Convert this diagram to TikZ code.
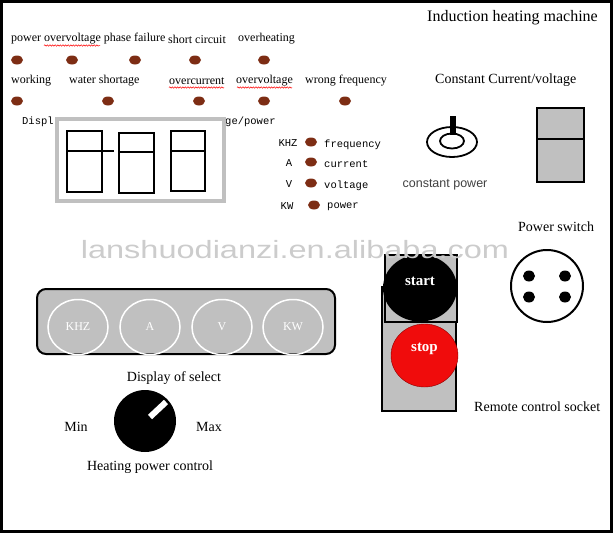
\documentclass[tikz,border=0pt]{standalone}
\usepackage{fontspec}
\setmainfont{Liberation Serif}
\setsansfont{Liberation Sans}
\setmonofont{Liberation Mono}
\usepackage{tikz}
\usetikzlibrary{positioning, shapes.geometric, decorations.pathmorphing}

\definecolor{lampbrown}{RGB}{125,45,20}
\definecolor{panelgray}{RGB}{192,192,192}
\definecolor{stopred}{RGB}{240,12,12}

\begin{document}
\begin{tikzpicture}[
  x=1pt, y=-1pt,
  lbl/.style={font=\fontsize{12}{14}\selectfont, anchor=west, inner sep=0pt},
  capt/.style={font=\fontsize{14}{16}\selectfont, inner sep=0pt},
  mono/.style={font=\ttfamily\fontsize{10.5}{12}\selectfont, inner sep=0pt},
  lamp/.style={ellipse, fill=lampbrown, minimum width=12pt, minimum height=9pt, inner sep=0pt},
  pin/.style={ellipse, fill=black, minimum width=12pt, minimum height=11pt, inner sep=0pt},
  sel/.style={ellipse, draw=white, line width=1.5pt, minimum width=60pt, minimum height=55pt,
              text=white, font=\fontsize{12}{14}\selectfont},
  btn/.style={text=white, font=\bfseries\fontsize{15}{17}\selectfont, inner sep=0pt},
  wavy/.style={red, line width=0.5pt, decorate, decoration={snake, amplitude=0.7pt, segment length=2.6pt}},
  wmark/.style={font=\sffamily\fontsize{25}{25}\selectfont, anchor=base, xscale=1.3, inner sep=0pt}
]
  \useasboundingbox (0,0) rectangle (614,533);
  \draw[line width=2.5pt] (1.3,1.3) rectangle (611.5,531.5);

  % alarm lamps
  \node[lbl] (pov)  at (11,39)  {power overvoltage phase failure};
  \node[lbl] (sc)   at (168,39) {short circuit};
  \node[lbl] (ovh)  at (238,39) {overheating};
  \node[lamp] (l11) at (17,60)  {};
  \node[lamp] (l12) at (72,60)  {};
  \node[lamp] (l13) at (135,60) {};
  \node[lamp] (l14) at (195,60) {};
  \node[lamp] (l15) at (264,60) {};

  \node[lbl] (wrk)  at (11,81)  {working};
  \node[lbl] (wsh)  at (69,81)  {water shortage};
  \node[lbl] (ocur) at (169,81) {overcurrent};
  \node[lbl] (ovol) at (236,81) {overvoltage};
  \node[lbl] (wfr)  at (305,81) {wrong frequency};
  \node[lamp] (l21) at (17,101)  {};
  \node[lamp] (l22) at (108,101) {};
  \node[lamp] (l23) at (199,101) {};
  \node[lamp] (l24) at (264,101) {};
  \node[lamp] (l25) at (345,101) {};

  \draw[wavy] (44,45.5) -- (100,45.5);
  \draw[wavy] (169,87.5) -- (224,87.5);
  \draw[wavy] (237,87.5) -- (292,87.5);

  % digit display
  \node[mono, anchor=west] (dsp1) at (22,122)  {Displ};
  \node[mono, anchor=west] (dsp2) at (225,122) {ge/power};
  \draw[draw=panelgray, line width=4pt, fill=white] (57,119) rectangle (224,201);
  \draw[line width=2pt] (67,131) rectangle (102,192) (67,151) -- (114,151);
  \draw[line width=2pt] (119,133) rectangle (154,193) (119,152) -- (154,152);
  \draw[line width=2pt] (171,131) rectangle (205,191) (171,151) -- (205,151);

  \node[mono] (khz) at (288,143) {KHZ};
  \node[mono] (amp) at (289,163) {A};
  \node[mono] (vlt) at (289,184) {V};
  \node[mono] (kw)  at (287,206) {KW};
  \node[lamp] (lk) at (311,142) {};
  \node[lamp] (la) at (311,162) {};
  \node[lamp] (lv) at (311,183) {};
  \node[lamp] (lw) at (314,205) {};
  \node[mono, anchor=west] (frq) at (324,145) {frequency};
  \node[mono, anchor=west] (cur) at (324,164) {current};
  \node[mono, anchor=west] (vol) at (324,186) {voltage};
  \node[mono, anchor=west] (pwr) at (327,207) {power};

  % constant current/voltage
  \node[lbl, font=\fontsize{16}{18}\selectfont] (title) at (427,18) {Induction heating machine};
  \node[lbl, font=\fontsize{14}{16}\selectfont] (ccv) at (435,80) {Constant Current/voltage};
  \draw[line width=1.8pt] (452,142) ellipse [x radius=25, y radius=15];
  \draw[line width=1.8pt] (452,141) ellipse [x radius=12, y radius=7.5];
  \fill (449.5,116) rectangle (455.5,135);
  \node[font=\sffamily\fontsize{12.5}{14}\selectfont, text=black!75, inner sep=0pt] (cpw) at (445,185) {constant power};
  \draw[fill=panelgray, line width=1.2pt] (537,108) rectangle (584,182) (537,139) -- (584,139);

  % power switch and socket
  \node[lbl, font=\fontsize{14}{16}\selectfont] (psw) at (518,227) {Power switch};
  \draw[line width=2pt] (547,286) circle [radius=36];
  \node[pin] (p1) at (529,276) {};
  \node[pin] (p2) at (565,276) {};
  \node[pin] (p3) at (529,297) {};
  \node[pin] (p4) at (565,297) {};
  \node[lbl, font=\fontsize{14}{16}\selectfont] (rcs) at (474,407) {Remote control socket};

  % start / stop
  \draw[fill=panelgray, line width=1.5pt] (382,287) rectangle (456,411);
  \draw[fill=panelgray, line width=1.5pt] (385,255) rectangle (457,322);
  \node[ellipse, fill=black, minimum width=74pt, minimum height=67pt, inner sep=0pt] (start) at (420,288) {};
  \node[ellipse, fill=stopred, draw=red!55!black, minimum width=67pt, minimum height=63pt, inner sep=0pt] (stop) at (424.5,355.5) {};
  \node[btn] (starttxt) at ([yshift=7pt]start.center) {start};
  \node[btn] (stoptxt)  at ([yshift=6.5pt]stop.center) {stop};

  % display select and heating power
  \draw[fill=panelgray, line width=2pt, rounded corners=9pt] (37,289) rectangle (335,354);
  \node[sel] (selk) at (78,327)  {KHZ};
  \node[sel] (sela) at (150,327) {A};
  \node[sel] (selv) at (222,327) {V};
  \node[sel] (selw) at (293,327) {KW};
  \node[capt] (dos) at (174,378) {Display of select};
  \node[circle, fill=black, minimum size=62pt, inner sep=0pt] (knob) at (145,421) {};
  \draw[white, line width=6pt] (150,417) -- (166,402);
  \node[capt] (min) at (76,427)  {Min};
  \node[capt] (max) at (209,427) {Max};
  \node[capt] (hpc) at (150,467) {Heating power control};

  % watermark
  \node[wmark, text=black!20] (wm) at (295,258) {lanshuodianzi.en.alibaba.com};
\end{tikzpicture}
\end{document}
